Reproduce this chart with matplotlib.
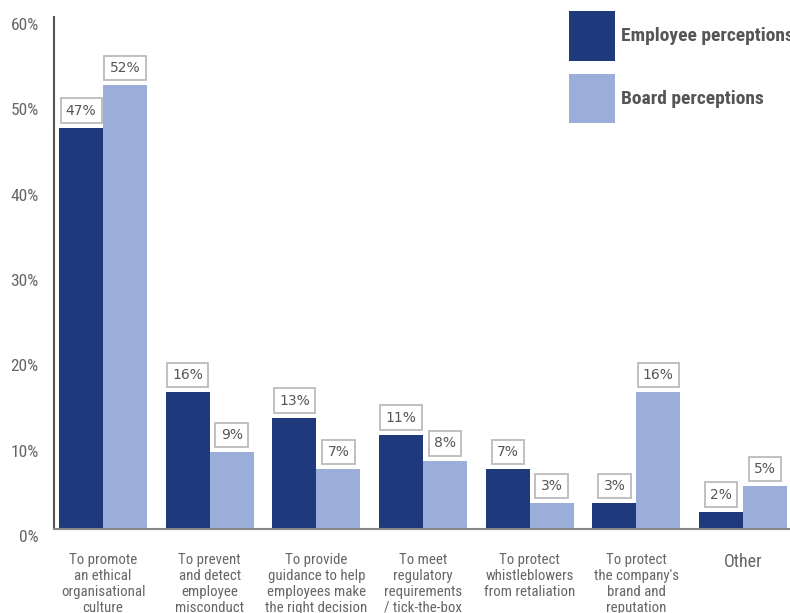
import numpy as np
import matplotlib.pyplot as plt
import matplotlib.transforms as mtransforms

# data
categories = ["To promote\nan ethical\norganisational\nculture",
              "To prevent\nand detect\nemployee\nmisconduct",
              "To provide\nguidance to help\nemployees make\nthe right decision",
              "To meet\nregulatory\nrequirements\n/ tick-the-box",
              "To protect\nwhistleblowers\nfrom retaliation",
              "To protect\nthe company's\nbrand and\nreputation",
              "Other"]
employee = [47, 16, 13, 11, 7, 3, 2]
board = [52, 9, 7, 8, 3, 16, 5]
yticks = [0, 10, 20, 30, 40, 50, 60]

dark = '#1e3a7c'
light = '#9aaed9'
grey_text = '#666666'
narrow = ['Liberation Sans Narrow', 'Roboto Condensed', 'DejaVu Sans Condensed', 'Liberation Sans']

fig = plt.figure(figsize=(7.9, 6.13), dpi=100)
ax = fig.add_axes([54/790, 1-529/613, 1-54/790, (529-17)/613])

x = np.arange(len(categories))
w = 0.412
b1 = ax.bar(x - w/2, employee, w, color=dark, label='Employee perceptions')
b2 = ax.bar(x + w/2, board, w, color=light, label='Board perceptions')

# boxed value labels above each bar
for bars, vals in [(b1, employee), (b2, board)]:
    for r, v in zip(bars, vals):
        ax.annotate(f"{v}%", (r.get_x() + r.get_width()/2, v),
                    xytext=(0, 12.5), textcoords='offset points',
                    ha='center', va='center', fontsize=10, color='#555555',
                    bbox=dict(boxstyle='square,pad=0.38', fc='white', ec='#bbbbbb', lw=1.3))

ax.set_xlim(-0.46, 6.44)
ax.set_ylim(0, 60)
ax.set_yticks(yticks)
ax.set_yticklabels([f"{t}%" for t in yticks], family=narrow, fontsize=12.5, color=grey_text)
ax.set_xticks(x)
ax.set_xticklabels(categories, family=narrow, fontsize=10.7, color=grey_text, linespacing=1.18)
ax.get_xticklabels()[-1].set_fontsize(13)
ax.tick_params(axis='both', length=0)
ax.tick_params(axis='x', pad=17)
ax.tick_params(axis='y', pad=11)

# y labels sit a little below their gridline in the original
shift = mtransforms.ScaledTranslation(0, -7/100, fig.dpi_scale_trans)
for lab in ax.get_yticklabels():
    lab.set_transform(lab.get_transform() + shift)

for s in ['top', 'right']:
    ax.spines[s].set_visible(False)
ax.spines['left'].set_color('#555555')
ax.spines['left'].set_linewidth(1.5)
ax.spines['bottom'].set_color('#888888')
ax.spines['bottom'].set_linewidth(1.5)

leg = ax.legend(loc='upper left', bbox_to_anchor=(569/790, 1-11/613),
                bbox_transform=fig.transFigure, frameon=False, borderpad=0,
                borderaxespad=0, handlelength=2.37, handleheight=3.55,
                labelspacing=0.67, handletextpad=0.3,
                prop={'family': narrow, 'size': 14, 'weight': 'bold'})
for t in leg.get_texts():
    t.set_color('#555555')

fig.savefig('out.png', dpi=100)
